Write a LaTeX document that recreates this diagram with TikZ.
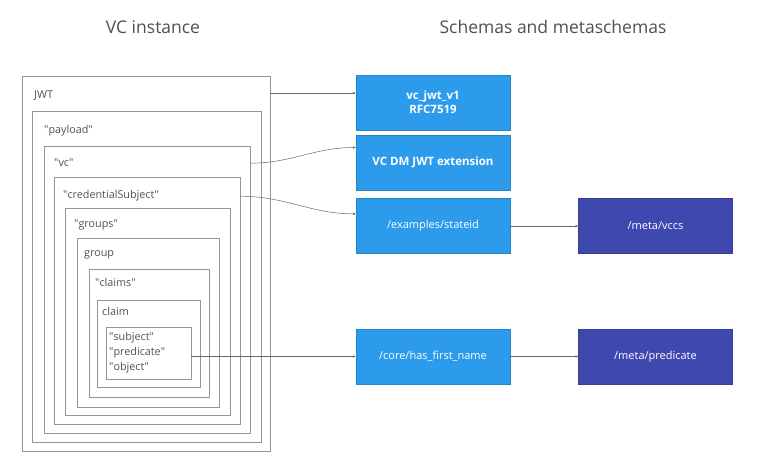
\documentclass[tikz,border=0pt]{standalone}
\usepackage{fontspec}
\setmainfont{Open Sans}
\usetikzlibrary{arrows.meta}
\tikzstyle{canvas} = [x = 1pt, y = -1pt]
\definecolor{lineColor}{RGB}{150,150,150}
\definecolor{textColor}{RGB}{80,80,80}
\definecolor{schemaColor}{RGB}{45,155,235}
\definecolor{metaColor}{RGB}{63,72,174}
\tikzstyle{layerStyle} = [draw=lineColor, line width=.8pt, anchor=north west, inner sep=0, outer sep=0]
\tikzstyle{layerText} = [anchor=base west, inner sep=0, text=textColor, font=\fontsize{10.8}{15}\selectfont]
\tikzstyle{schemaStyle} = [fill=schemaColor, draw=schemaColor!85!black, line width=.5pt, minimum width=154pt, minimum height=55pt, inner sep=0, outer sep=0, text=white, font=\fontsize{11}{14}\selectfont, align=center]
\tikzstyle{schemaBold} = [schemaStyle, font=\fontsize{11.5}{14}\selectfont\bfseries]
\tikzstyle{metaStyle} = [schemaStyle, fill=metaColor, draw=metaColor!85!black]
\tikzstyle{headText} = [text=textColor, font=\fontsize{17.5}{20}\selectfont]
\tikzstyle{link} = [draw=black!60, line width=.5pt, -{Latex[length=3pt, width=2.5pt]}]
\newcommand{\layerBox}[5]{\node [layerStyle, minimum width = #4 - #2, minimum height = #5 - #3] (#1) at (#2, #3) {};}
\newcommand{\layerLabel}[4]{\node [layerText] (#1) at (#2, #3) {#4};}
\newcommand{\qt}[1]{\textquotedbl#1\textquotedbl}

\begin{document}
\begin{tikzpicture}[canvas]
        \useasboundingbox (0, 0) rectangle (765, 470);
        \node [headText] (instanceHead) at (153, 27) {VC instance};
        \node [headText] (schemaHead) at (553, 27) {Schemas and metaschemas};

        % nested claims, outside in
        \layerBox{jwt}{22}{76}{270}{451}
        \layerBox{payload}{32}{111}{261}{442}
        \layerBox{vc}{44}{146}{250}{433}
        \layerBox{credSubject}{54}{177}{240}{424}
        \layerBox{groups}{65}{208}{230}{415}
        \layerBox{group}{77}{238}{219}{407}
        \layerBox{claims}{89}{269}{209}{397}
        \layerBox{claim}{97}{300}{200}{387}
        \layerBox{triple}{106}{327}{191}{379}

        \layerLabel{jwtLabel}{34}{99}{JWT}
        \layerLabel{payloadLabel}{44}{134}{\qt{payload}}
        \layerLabel{vcLabel}{54}{167}{\qt{vc}}
        \layerLabel{credSubjectLabel}{63}{199}{\qt{credentialSubject}}
        \layerLabel{groupsLabel}{74}{228}{\qt{groups}}
        \layerLabel{groupLabel}{84}{256}{group}
        \layerLabel{claimsLabel}{95}{286}{\qt{claims}}
        \layerLabel{claimLabel}{102}{315}{claim}
        \node [layerText, anchor=north west, align=left] (tripleLabel) at (109, 332) {\qt{subject}\\\qt{predicate}\\\qt{object}};

        % schemas
        \node [schemaBold] (vcJwt) at (433, 102.5) {vc\_jwt\_v1\\RFC7519};
        \node [schemaBold] (vcDm) at (433, 162.5) {VC DM JWT extension};
        \node [schemaStyle] (stateId) at (433, 226) {/examples/stateid};
        \node [schemaStyle] (hasFirstName) at (433, 356.5) {/core/has\_first\_name};
        \node [metaStyle] (vccs) at (655.5, 226) {/meta/vccs};
        \node [metaStyle] (predicate) at (655.5, 356.5) {/meta/predicate};

        \draw [link] (jwt.east |- vcJwt.173) -- (vcJwt.173);
        \draw [link] (vc.east |- vcLabel) to [out=0, in=180] (vcDm.169);
        \draw [link] (credSubject.east |- credSubjectLabel) to [out=0, in=180] (stateId.171);
        \draw [link] (triple.east |- hasFirstName.west) -- (hasFirstName.west);
        \draw [link] (stateId) -- (vccs);
        \draw [link] (hasFirstName) -- (predicate);
      \end{tikzpicture}
\end{document}
